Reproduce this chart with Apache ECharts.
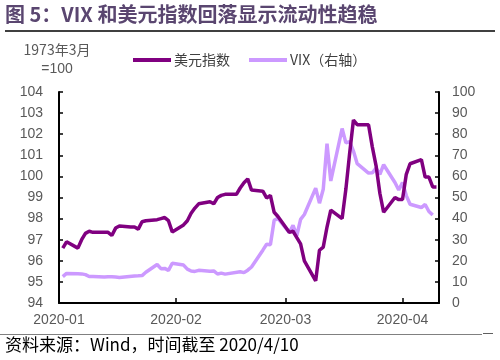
<!DOCTYPE html>
<html><head><meta charset="utf-8">
<script src="https://cdn.jsdelivr.net/npm/echarts@6/dist/echarts.min.js"></script>
<style>html,body{margin:0;padding:0;background:#fff}#c{width:500px;height:360px}</style>
</head><body><div id="c"></div>
<script>
var dates = ['2020-01-02','2020-01-03','2020-01-06','2020-01-07','2020-01-08','2020-01-09','2020-01-10','2020-01-13','2020-01-14','2020-01-15','2020-01-16','2020-01-17','2020-01-20','2020-01-21','2020-01-22','2020-01-23','2020-01-24','2020-01-27','2020-01-28','2020-01-29','2020-01-30','2020-01-31','2020-02-03','2020-02-04','2020-02-05','2020-02-06','2020-02-07','2020-02-10','2020-02-11','2020-02-12','2020-02-13','2020-02-14','2020-02-17','2020-02-18','2020-02-19','2020-02-20','2020-02-21','2020-02-24','2020-02-25','2020-02-26','2020-02-27','2020-02-28','2020-03-02','2020-03-03','2020-03-04','2020-03-05','2020-03-06','2020-03-09','2020-03-10','2020-03-11','2020-03-12','2020-03-13','2020-03-16','2020-03-17','2020-03-18','2020-03-19','2020-03-20','2020-03-23','2020-03-24','2020-03-25','2020-03-26','2020-03-27','2020-03-30','2020-03-31','2020-04-01','2020-04-02','2020-04-03','2020-04-06','2020-04-07','2020-04-08','2020-04-09','2020-04-10'];
var dxy = [96.6,96.9,96.6,97.0,97.3,97.4,97.35,97.35,97.35,97.2,97.55,97.65,97.6,97.6,97.5,97.85,97.9,97.95,98.0,98.05,97.9,97.37,97.7,97.9,98.25,98.5,98.7,98.8,98.7,99.0,99.1,99.15,99.15,99.45,99.7,99.88,99.35,99.3,98.98,99.1,98.3,98.1,97.35,97.4,97.1,96.8,96.0,95.05,96.5,96.65,97.6,98.4,98.0,99.4,101.1,102.67,102.45,102.45,101.4,100.5,99.2,98.3,99.0,98.9,98.9,100.1,100.6,100.8,99.97,99.97,99.5,99.5];
var vix = [12.47,14.02,13.85,13.79,13.45,12.54,12.56,12.32,12.39,12.42,12.32,12.10,null,12.85,12.91,12.98,14.56,18.23,16.28,16.39,15.49,18.84,17.97,16.05,15.15,14.96,15.47,15.04,15.18,13.74,14.15,13.68,null,14.83,14.38,15.56,17.08,25.03,27.85,27.56,39.16,40.11,33.42,36.82,31.99,39.62,41.94,54.46,47.30,53.90,75.47,57.83,82.69,75.91,76.45,72.00,66.04,61.59,61.67,63.95,61.00,65.54,57.08,53.54,57.06,50.91,46.80,45.24,46.70,43.35,41.67,null];
var seriesNames = ['美元指数','VIX（右轴）'];
var leftTicks = {min:94,max:104,interval:1};
var rightTicks = {min:0,max:100,interval:10};
var xRange = ['2020-01-01','2020-04-10 16:00'];

var dxyData = [], vixData = [];
for (var i=0;i<dates.length;i++){
  dxyData.push([dates[i], dxy[i]]);
  if (vix[i] !== null) vixData.push([dates[i], vix[i]]);
}
function pad(n){return n<10?'0'+n:''+n;}
var chart = echarts.init(document.getElementById('c'), null, {renderer:'canvas'});
var lab = {color:'#595959', fontSize:14, fontFamily:'Liberation Sans, Arial, sans-serif'};
chart.setOption({
  animation:false,
  grid:{left:59, right:61, top:92, bottom:57, containLabel:false},
  legend:{
    data:seriesNames, left:128, top:48, itemWidth:38, itemHeight:4, itemGap:19, icon:'rect',
    textStyle:{color:'#404040', fontSize:14, fontFamily:'Noto Sans CJK SC, sans-serif', padding:[0,0,0,-2]}
  },
  xAxis:{
    type:'time', min:xRange[0], max:xRange[1],
    minInterval:28*86400000, maxInterval:31*86400000, splitNumber:3,
    axisLine:{show:true, lineStyle:{color:'#000', width:2}},
    axisTick:{show:true, inside:true, length:5, lineStyle:{color:'#000', width:1.5}},
    splitLine:{show:false},
    axisLabel:Object.assign({margin:10, showMinLabel:true, hideOverlap:false, formatter:function(v){var d=new Date(v);return d.getFullYear()+'-'+pad(d.getMonth()+1);}}, lab)
  },
  yAxis:[
    {type:'value', min:leftTicks.min, max:leftTicks.max, interval:leftTicks.interval, position:'left',
     axisLine:{show:true, lineStyle:{color:'#000', width:2}},
     axisTick:{show:true, inside:true, length:4, lineStyle:{color:'#000', width:1.5}},
     splitLine:{show:false},
     axisLabel:Object.assign({margin:16}, lab)},
    {type:'value', min:rightTicks.min, max:rightTicks.max, interval:rightTicks.interval, position:'right',
     axisLine:{show:true, lineStyle:{color:'#000', width:2}},
     axisTick:{show:true, inside:true, length:4, lineStyle:{color:'#000', width:1.5}},
     splitLine:{show:false},
     axisLabel:Object.assign({margin:13}, lab)}
  ],
  series:[
    {name:seriesNames[0], type:'line', yAxisIndex:0, data:dxyData, symbol:'none', z:3,
     lineStyle:{color:'#800080', width:3.5}, itemStyle:{color:'#800080'}},
    {name:seriesNames[1], type:'line', yAxisIndex:1, data:vixData, symbol:'none', z:2, connectNulls:true,
     lineStyle:{color:'#CC99FF', width:3.5}, itemStyle:{color:'#CC99FF'}}
  ],
  graphic:[
    {type:'text', left:5, top:4, style:{text:'图 5：VIX 和美元指数回落显示流动性趋稳', fill:'#5a4670', font:'bold 20px "Noto Sans CJK SC", sans-serif'}},
    {type:'line', shape:{x1:5,y1:31,x2:495,y2:31}, style:{stroke:'#000', lineWidth:1.5}},
    {type:'text', x:57, y:50, style:{text:'1973年3月', fill:'#595959', font:'14px "Noto Sans CJK SC", sans-serif', align:'center', verticalAlign:'middle'}},
    {type:'text', x:57, y:69, style:{text:'=100', fill:'#595959', font:'14px "Liberation Sans", Arial, sans-serif', align:'center', verticalAlign:'middle'}},
    {type:'line', shape:{x1:0,y1:334.5,x2:482,y2:334.5}, style:{stroke:'#808080', lineWidth:1}},
    {type:'line', shape:{x1:483,y1:333.5,x2:493,y2:333.5}, style:{stroke:'#606060', lineWidth:1}},
    {type:'text', left:5, top:336, style:{text:'资料来源：Wind，时间截至 2020/4/10', fill:'#000', font:'17px "Noto Sans CJK SC", sans-serif'}}
  ]
});
</script></body></html>
